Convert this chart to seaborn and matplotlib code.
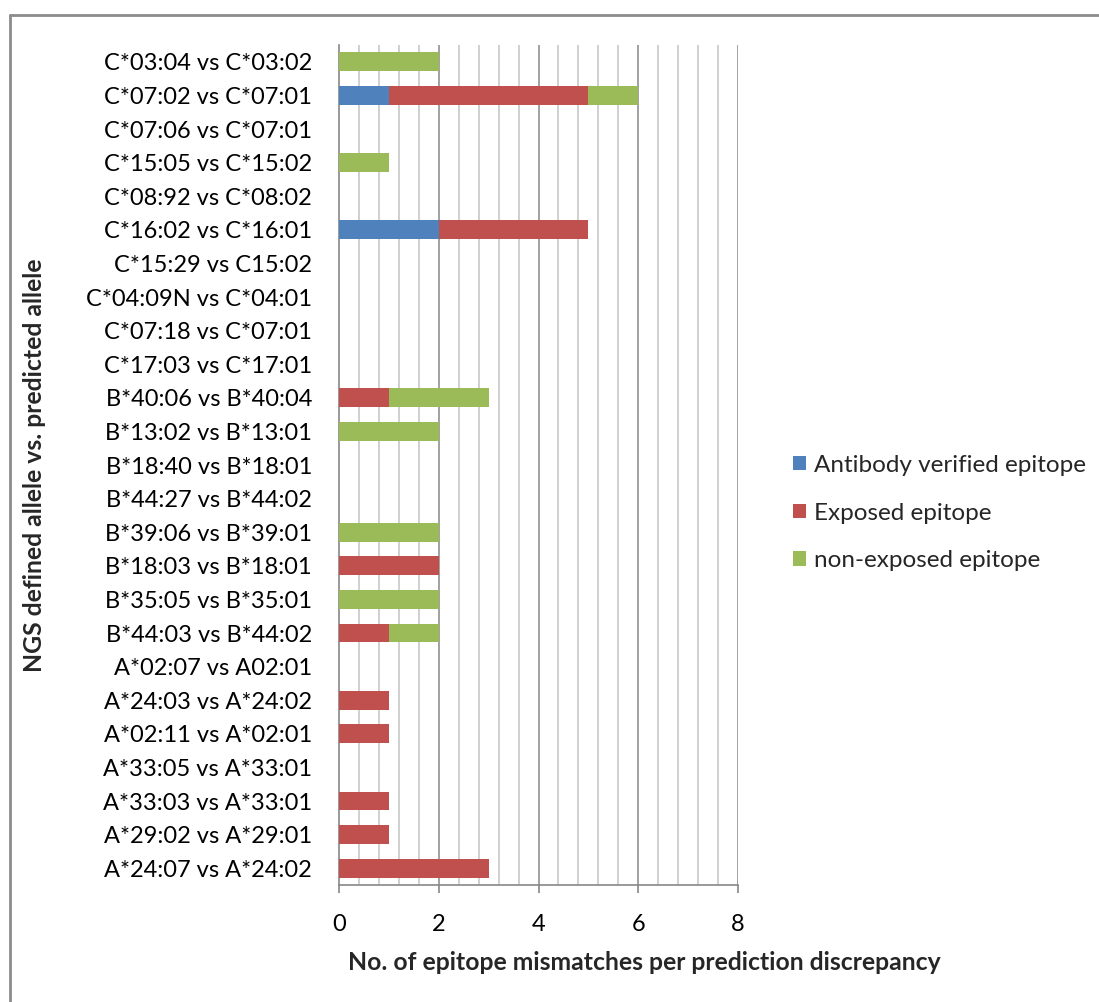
import numpy as np
import pandas as pd
import matplotlib
matplotlib.use("Agg")
import matplotlib.pyplot as plt
import seaborn as sns
from matplotlib.patches import Patch
from matplotlib.lines import Line2D
from matplotlib.ticker import MultipleLocator

categories = [
    "C*03:04 vs C*03:02", "C*07:02 vs C*07:01", "C*07:06 vs C*07:01",
    "C*15:05 vs C*15:02", "C*08:92 vs C*08:02", "C*16:02 vs C*16:01",
    "C*15:29 vs C15:02", "C*04:09N vs C*04:01", "C*07:18 vs C*07:01",
    "C*17:03 vs C*17:01", "B*40:06 vs B*40:04", "B*13:02 vs B*13:01",
    "B*18:40 vs B*18:01", "B*44:27 vs B*44:02", "B*39:06 vs B*39:01",
    "B*18:03 vs B*18:01", "B*35:05 vs B*35:01", "B*44:03 vs B*44:02",
    "A*02:07 vs A02:01", "A*24:03 vs A*24:02", "A*02:11 vs A*02:01",
    "A*33:05 vs A*33:01", "A*33:03 vs A*33:01", "A*29:02 vs A*29:01",
    "A*24:07 vs A*24:02",
]
antibody_verified = [0, 1, 0, 0, 0, 2, 0, 0, 0, 0, 0, 0, 0, 0, 0, 0, 0, 0, 0, 0, 0, 0, 0, 0, 0]
exposed =           [0, 4, 0, 0, 0, 3, 0, 0, 0, 0, 1, 0, 0, 0, 0, 2, 0, 1, 0, 1, 1, 0, 1, 1, 3]
non_exposed =       [2, 1, 0, 1, 0, 0, 0, 0, 0, 0, 2, 2, 0, 0, 2, 0, 2, 1, 0, 0, 0, 0, 0, 0, 0]
series_names = ["Antibody verified epitope", "Exposed epitope", "non-exposed epitope"]
colors = ["#4F81BD", "#C0504D", "#9BBB59"]
x_ticks = [0, 2, 4, 6, 8]

df = pd.DataFrame({"cat": categories, "a": antibody_verified,
                   "e": exposed, "n": non_exposed})
df["ae"] = df["a"] + df["e"]
df["total"] = df["ae"] + df["n"]

sns.set_style("white")
plt.rcParams["font.family"] = ["Lato", "DejaVu Sans"]

FS = 17
FSB = 17.8

fig = plt.figure(figsize=(10.99, 10.02), dpi=100)
ax = fig.add_axes([339/1099, 1-885/1002, (738-339)/1099, (885-45)/1002])

bw = 0.56
sns.barplot(data=df, y="cat", x="total", order=categories, color=colors[2],
            orient="h", width=bw, linewidth=0, saturation=1, ax=ax, zorder=3)
sns.barplot(data=df, y="cat", x="ae", order=categories, color=colors[1],
            orient="h", width=bw, linewidth=0, saturation=1, ax=ax, zorder=3)
sns.barplot(data=df, y="cat", x="a", order=categories, color=colors[0],
            orient="h", width=bw, linewidth=0, saturation=1, ax=ax, zorder=3)

ax.set_xlim(0, 8)
ax.set_ylim(len(categories) - 0.5, -0.5)
ax.set_xticks(x_ticks)
ax.xaxis.set_minor_locator(MultipleLocator(0.4))
ax.grid(False)
ax.set_axisbelow(True)
for v in np.arange(0.4, 8.01, 0.4):
    if abs(v/2 - round(v/2)) < 1e-6:
        ax.axvline(v, color="#878787", lw=1.1, zorder=0)
    else:
        ax.axvline(v, color="#C4C4C4", lw=1.1, zorder=0)

for s in ["top", "right"]:
    ax.spines[s].set_visible(False)
for s in ["left", "bottom"]:
    ax.spines[s].set_color("#878787")
    ax.spines[s].set_linewidth(1.2)

ax.tick_params(axis="x", which="major", length=6, width=1.2, color="#878787",
               direction="out", pad=15, labelsize=FS, labelcolor="black", bottom=True)
ax.tick_params(axis="x", which="minor", length=0)
ax.tick_params(axis="y", length=0, pad=19.5, labelsize=FS, labelcolor="black")
ax.set_xlabel("")
ax.set_ylabel("")

fig.text(644/1099, 1-962/1002, "No. of epitope mismatches per prediction discrepancy",
         ha="center", va="center", fontsize=FSB, fontweight="bold")
fig.text(35/1099, 1-465/1002, "NGS defined allele vs. predicted allele",
         ha="center", va="center", rotation=90, fontsize=FSB, fontweight="bold")

handles = [Patch(facecolor=c, edgecolor="none") for c in colors]
fig.legend(handles, series_names, loc="center left",
           bbox_to_anchor=(793/1099, 1-513/1002), frameon=False,
           fontsize=17.5, handlelength=0.55, handleheight=0.55,
           handletextpad=0.3, labelspacing=1.1, borderpad=0, borderaxespad=0)

fig.add_artist(Line2D([10/1099, 10/1099], [0, 1-15/1002], transform=fig.transFigure,
                      color="#8C8C8C", lw=2))
fig.add_artist(Line2D([10/1099, 1], [1-15/1002, 1-15/1002], transform=fig.transFigure,
                      color="#8C8C8C", lw=2))

fig.savefig("out.png", dpi=100)
